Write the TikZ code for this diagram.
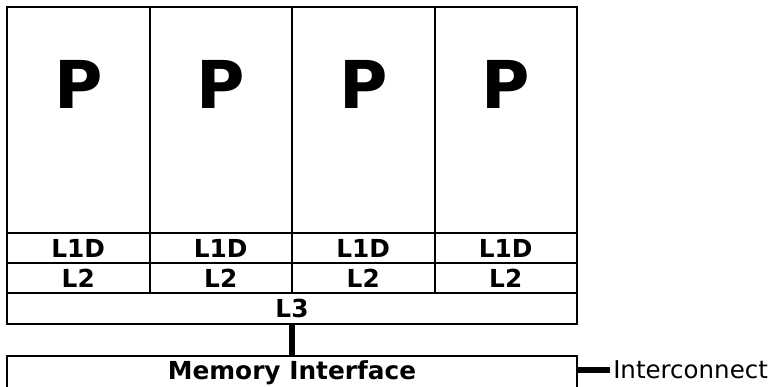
\documentclass[tikz,border=0pt]{standalone}
\usepackage{fontspec}
\setmainfont{DejaVu Sans}
\usetikzlibrary{positioning}
\tikzset{every picture/.style={line join=miter}}
\tikzset{core/.style={draw, rectangle, inner sep=0pt, outer sep=0pt,
  minimum width=142.5pt, text height=101pt, text depth=125pt,
  font=\fontsize{66}{66}\selectfont\bfseries}}
\tikzset{cache/.style={draw, rectangle, inner sep=0pt, outer sep=0pt,
  minimum width=142.5pt, minimum height=30pt,
  font=\fontsize{24.8}{24.8}\selectfont\bfseries}}
\tikzset{bus/.style={draw, line width=6.5pt}}

\begin{document}
\begin{tikzpicture}[x=1pt, y=-1pt, line width=2pt]
  \useasboundingbox (0,0) rectangle (771,386);
  \clip (0,0) rectangle (771,386);

  % four cores with private caches
  \node[core, anchor=north west] (p1) at (7,7) {P};
  \node[core, right=0pt of p1] (p2) {P};
  \node[core, right=0pt of p2] (p3) {P};
  \node[core, right=0pt of p3] (p4) {P};
  \foreach \i in {1,...,4} {
    \node[cache, below=0pt of p\i]   (l1d\i) {L1D};
    \node[cache, below=0pt of l1d\i] (l2\i)  {L2};
  }

  % shared last level cache
  \node[cache, minimum width=570pt, minimum height=31pt, anchor=north west]
    (l3) at (l21.south west) {L3};

  % memory interface (runs off the bottom)
  \node[cache, minimum width=570pt, minimum height=0pt,
        text height=23.5pt, text depth=26.5pt, anchor=north west]
    (mem) at (7,356) {Memory Interface};

  % buses
  \draw[bus] (l3.south) -- (mem.north);
  \coordinate (ic) at (610,370);
  \draw[bus] (mem.north east |- ic) -- (ic)
    node[right, inner sep=0pt, font=\fontsize{24.5}{24.5}\selectfont] {Interconnect};
\end{tikzpicture}
\end{document}
